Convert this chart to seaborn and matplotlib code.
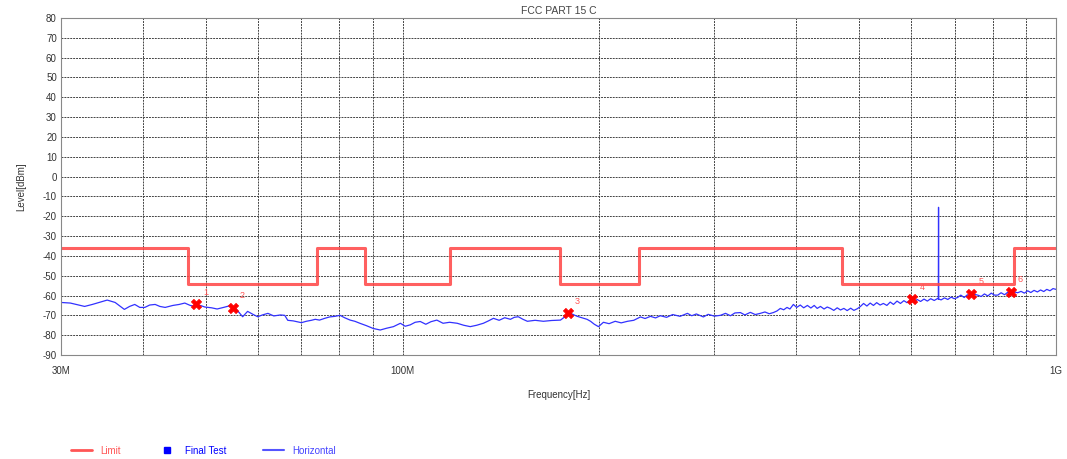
import matplotlib
matplotlib.use('Agg')
import matplotlib.pyplot as plt
import matplotlib.ticker as mticker
from matplotlib.lines import Line2D
import seaborn as sns

# Limit line (band edges in MHz and level per band in dBm)
limit_edges = [30, 47, 74, 87.5, 118, 174, 230, 470, 862, 1000]
limit_levels = [-36, -54, -36, -54, -36, -54, -36, -54, -36]

# Final test points
final_freq = [48.3, 55.0, 179.0, 603.0, 742.0, 852.0]
final_level = [-64.4, -66.2, -69.0, -62.0, -59.3, -58.1]
final_labels = ['1', '2', '3', '4', '5', '6']

# Horizontal scan trace (MHz, dBm)
trace_freq = [30, 31, 32.6, 33.5, 34.3, 35.3, 36.3, 37.5, 38.2, 38.9, 39.6, 40.3, 41.0, 41.8,
              42.5, 43.3, 44.5, 45.5, 46.4, 47.3, 48.1, 49.0, 49.8, 51.0, 52.0, 53.2, 54.6,
              55.5, 56.9, 57.9, 59.0, 60.0, 61.0, 62.2, 63.5, 65.0, 66.0, 66.7, 68.0, 70.0,
              71.2, 72.5, 73.5, 74.6, 76.0, 77.3, 78.8, 80.2, 81.5, 83.1, 84.5, 86.0, 88.0,
              90.1, 92.4, 94.5, 96.8, 99.2, 100.9, 102.7, 104.5, 106.4, 108.5, 110.5, 112.8,
              115.3, 118.0, 121.2, 124.0, 126.9, 129.8, 132.9, 135.3, 137.7, 140.5, 143.3,
              146.2, 148.2, 150.3, 152.8, 155.2, 159.5, 164.2, 169.0, 174.4, 177.5, 180.7,
              185.0, 189.2, 191.5, 193.9, 196.5, 199.4, 202.9, 207.0, 211.5, 216.0, 220.9,
              225.8, 231.2, 235.0, 239.5, 243.8, 248.0, 253.5, 259.0, 265.8, 272.8, 277.0,
              281.5, 288.6, 293.5, 300.0, 306.4, 312.0, 317.5, 322.5, 328.8, 334.0, 340.5,
              346.5, 352.7, 358.5, 364.0, 369.3, 374.0, 378.5, 383.0, 387.5, 391.5, 396.3,
              401.0, 406.0, 411.0, 416.4, 421.5, 426.5, 431.0, 436.0, 441.5, 446.5, 451.7,
              457.0, 462.5, 467.9, 473.5, 479.0, 485.0, 490.5, 496.8, 502.0, 507.5, 513.5,
              519.5, 525.5, 531.5, 538.0, 544.2, 551.0, 557.5, 564.0, 571.0, 578.0, 585.0,
              591.5, 598.6, 606.0, 613.0, 620.5, 628.0, 635.5, 643.0, 651.0, 658.8, 660.5,
              661.0, 661.5, 667.0, 675.0, 683.0, 691.0, 698.5, 706.9, 715.0, 723.5, 732.0,
              740.5, 749.5, 758.9, 768.0, 777.0, 786.5, 796.0, 805.0, 814.5, 824.0, 834.0,
              843.5, 854.0, 863.5, 873.8, 884.0, 894.5, 905.0, 915.0, 925.5, 936.5, 947.0,
              957.7, 968.0, 979.0, 989.5, 1000]
trace_level = [-63.5, -63.8, -65.5, -64.5, -63.5, -62.3, -63.5, -67, -65.5, -64.5, -66, -66,
               -64.8, -64.5, -65.5, -66, -65, -64.5, -63.8, -65, -65.5, -65, -65.8, -66.2,
               -66.8, -66, -65, -66.5, -70.7, -68, -69.5, -70.7, -69.8, -69, -70.3, -69.8,
               -70, -72.5, -72.8, -73.7, -73, -72.5, -72, -72.4, -71.5, -70.8, -70.5, -70,
               -71.2, -72.4, -73, -74, -75.2, -76.6, -77.4, -76.5, -75.7, -74, -75.5, -74.8,
               -73.5, -73.1, -74.5, -73.2, -72.4, -74, -73.5, -74, -75, -75.7, -75, -74,
               -72.8, -71.5, -72.5, -71.2, -72, -71, -70.7, -72, -73, -72.5, -73, -72.6,
               -72.4, -70.5, -69, -70.5, -71.5, -72, -73, -74.5, -75.7, -73.5, -74.2, -73,
               -73.8, -73, -72.5, -70.8, -71.6, -70.5, -71.3, -70.2, -71.0, -69.6, -70.5,
               -69, -70.2, -69.3, -70.8, -69.5, -70.4, -70, -69, -70.2, -68.8, -68.6, -69.8,
               -68.5, -69.6, -69, -68.3, -69.2, -68.6, -67.8, -66.5, -67.2, -66, -66.8,
               -64.5, -66, -64.8, -66.2, -65, -66.3, -65, -66.5, -65.5, -66.8, -65.8, -66.5,
               -67.5, -66.2, -67.3, -66.5, -67.6, -66.4, -67.5, -66.6, -65.5, -64, -65.3,
               -63.8, -65, -63.6, -64.8, -64, -65, -63.3, -64.5, -62.8, -64, -62.6, -63.6,
               -62.3, -63.4, -62, -63, -61.8, -62.8, -61.6, -62.5, -61.5, -61.8, -15.5,
               -61.8, -62.2, -61.2, -62, -60.8, -61.6, -61, -59.8, -61, -59.6, -60.6, -59.4,
               -59.8, -60.5, -59.2, -60.2, -58.8, -59.8, -59.8, -58.6, -59.6, -58.4, -59.2,
               -58.2, -58.6, -57.9, -58.8, -57.6, -58.5, -57.4, -58.2, -57.2, -58, -56.9,
               -57.6, -56.5, -56.9]

y_ticks = list(range(-90, 81, 10))
x_major = [30, 100, 1000]
x_major_labels = ['30M', '100M', '1G']

sns.set_style('white')
plt.rcParams['font.family'] = ['Liberation Sans', 'DejaVu Sans']
plt.rcParams['axes.unicode_minus'] = False

fig = plt.figure(figsize=(10.67, 4.59), dpi=100)
ax = fig.add_axes([0.0572, 0.2266, 0.9325, 0.7342])

# step line for the limit
limit_x = []
limit_y = []
for i, lvl in enumerate(limit_levels):
    limit_x += [limit_edges[i], limit_edges[i + 1]]
    limit_y += [lvl, lvl]

sns.lineplot(x=trace_freq, y=trace_level, ax=ax, color='#3232ff', linewidth=0.9,
             estimator=None, sort=False, legend=False)
sns.lineplot(x=limit_x, y=limit_y, ax=ax, color='#ff4444', alpha=0.85, linewidth=2.2,
             estimator=None, sort=False, legend=False)
sns.scatterplot(x=final_freq, y=final_level, ax=ax, color='red', marker='X', s=55,
                edgecolor='red', linewidth=0.5, legend=False, zorder=5)
for f, l, t in zip(final_freq, final_level, final_labels):
    ax.annotate(t, (f, l), xytext=(5, 7), textcoords='offset points',
                color='#ff5555', fontsize=6.5)

ax.set_xscale('log')
ax.set_xlim(30, 1000)
ax.set_ylim(-90, 80)
ax.set_yticks(y_ticks)
ax.xaxis.set_major_locator(mticker.FixedLocator(x_major))
ax.xaxis.set_major_formatter(mticker.FixedFormatter(x_major_labels))
ax.xaxis.set_minor_locator(mticker.LogLocator(base=10, subs=range(2, 10)))
ax.xaxis.set_minor_formatter(mticker.NullFormatter())

ax.grid(True, which='both', color='#444444', linestyle=(0, (2, 1)), linewidth=0.7)
ax.tick_params(axis='y', labelsize=7, colors='#333333', length=0, pad=3)
ax.tick_params(axis='x', which='both', labelsize=7, colors='#333333', length=0, pad=8)
for s in ax.spines.values():
    s.set_color('#888888')
    s.set_linewidth(0.8)

ax.set_title('FCC PART 15 C', fontsize=7.5, color='#444444', pad=3)
ax.set_ylabel('Level[dBm]', fontsize=7, color='#333333', labelpad=12)
ax.set_xlabel('Frequency[Hz]', fontsize=7, color='#333333', labelpad=10)

handles = [Line2D([], [], color='#ff5555', linewidth=2),
           Line2D([], [], color='blue', marker='s', markersize=4, linestyle='none'),
           Line2D([], [], color='#5555ff', linewidth=1.5)]
fig.legend(handles, ['Limit', 'Final Test', 'Horizontal'], loc='lower left',
           bbox_to_anchor=(0.058, -0.012), ncol=3, frameon=False, fontsize=7,
           labelcolor=['#ff5555', 'blue', '#4444ff'], columnspacing=3.7,
           handlelength=2.2)

fig.savefig('out.png', dpi=100)
